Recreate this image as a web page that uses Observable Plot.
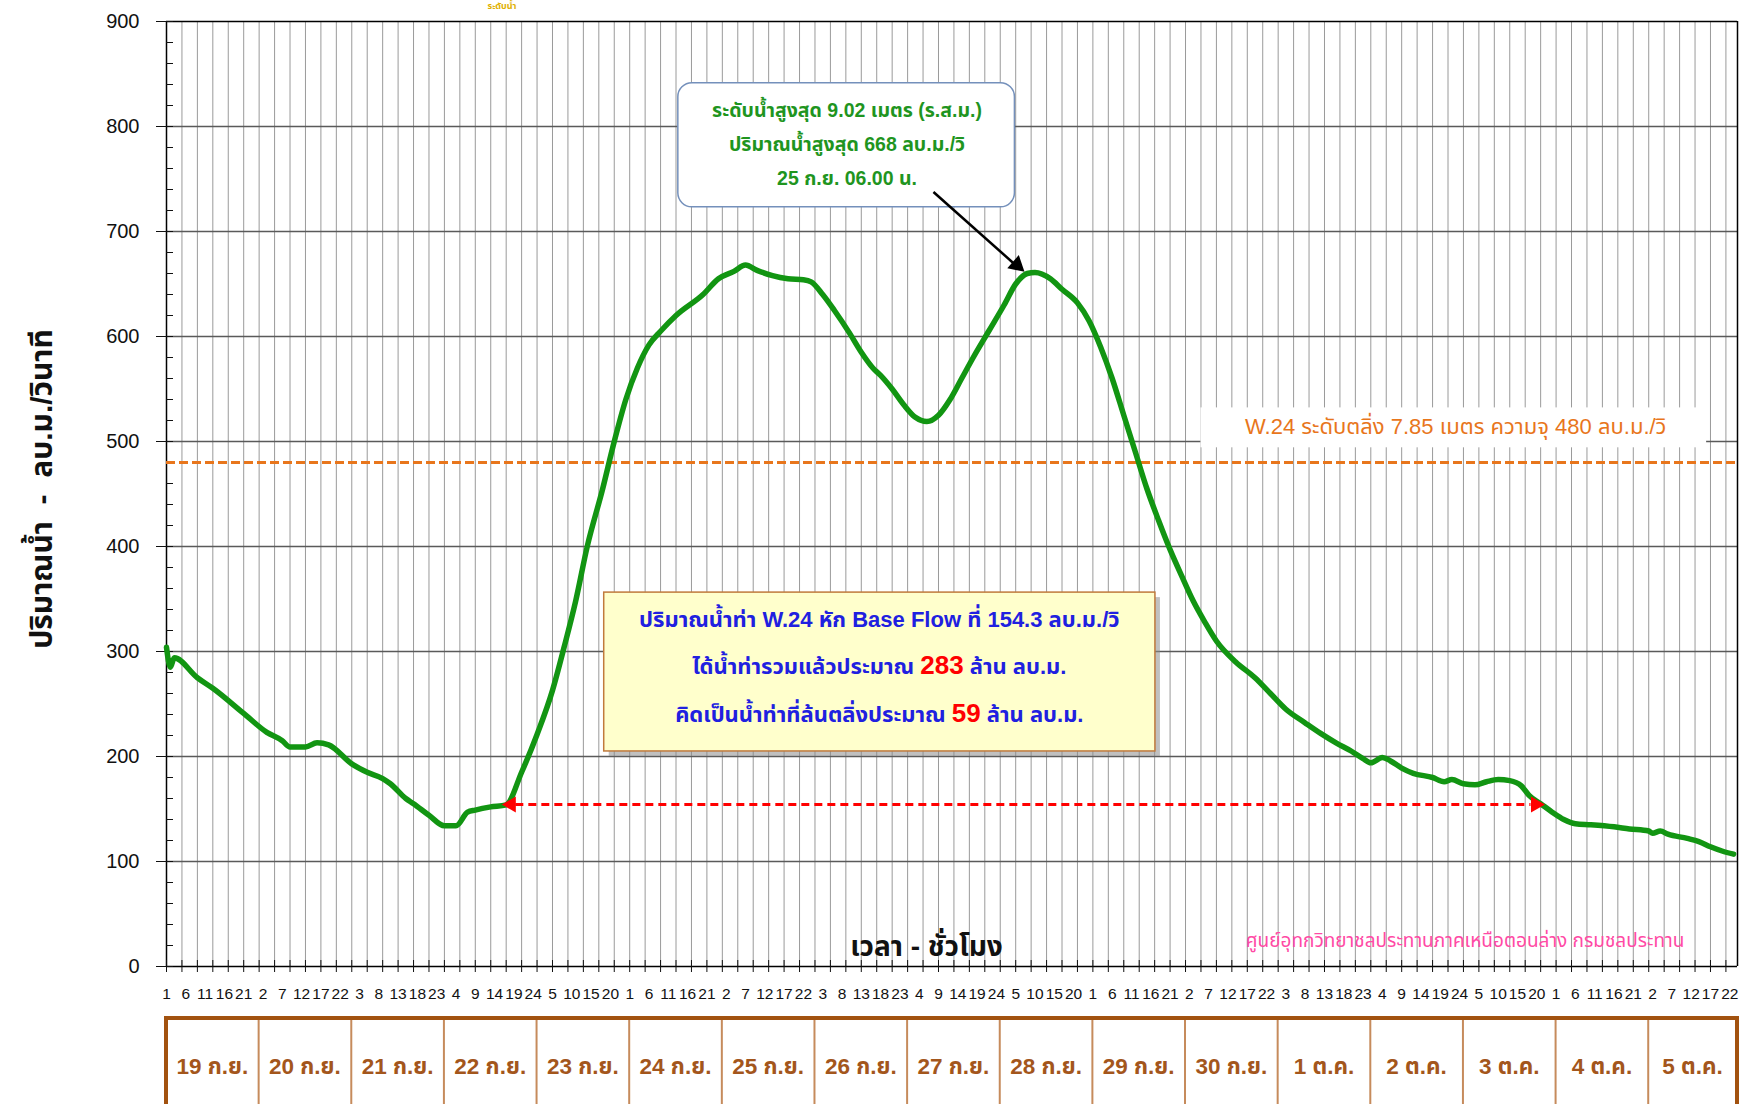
<!DOCTYPE html>
<html>
<head>
<meta charset="utf-8">
<script src="https://cdn.jsdelivr.net/npm/d3@7"></script>
<script src="https://cdn.jsdelivr.net/npm/@observablehq/plot@0.6"></script>
<style>
  html, body { margin: 0; padding: 0; background: #fff; }
  #chart { width: 1739px; height: 1104px; overflow: hidden; position: relative; }
</style>
</head>
<body>
<div id="chart"></div>
<script>
// ---------------- DATA ----------------
// hour index: 0 = 19 ก.ย. 01:00 (hourly series)
const hours = [0, 1, 2, 8, 12, 20, 26, 30, 32, 36, 39, 42, 48, 52, 56, 58, 62, 64, 68, 72, 75, 78, 80, 84, 88,
  92, 96, 100, 103, 106, 109, 113, 116, 119, 122, 125, 128, 132, 139, 143, 147, 150, 153, 157, 161, 165, 167, 170, 173,
  177, 180, 183, 185, 188, 191, 194, 197, 200, 203, 206, 209, 213, 217, 220, 223, 225, 229, 232, 236, 239,
  242, 245, 248, 251, 254, 257, 260, 263, 266, 269, 272, 277, 282, 286, 290, 295, 299, 303, 307, 310, 312,
  315, 317, 320, 323, 328, 331, 333, 336, 339, 342, 345, 348, 351, 353, 356, 359, 362, 365, 369, 375, 379,
  384, 385, 387, 389, 394, 397, 400, 403, 406];
const flow = [304, 285, 294, 275, 265, 241, 223, 215, 209, 209, 213, 211, 193, 185, 179, 174, 160, 155, 144, 134, 134, 147, 149, 152, 154,
  185, 221, 263, 304, 348, 400, 455, 500, 540, 570, 592, 605, 620, 640, 655, 662, 668, 663, 658, 655, 654, 652, 640, 625,
  603, 585, 570, 563, 550, 535, 523, 519, 525, 540, 560, 580, 605, 630, 650, 660, 661, 655, 645, 632, 615,
  590, 560, 525, 490, 455, 425, 397, 372, 348, 328, 310, 290, 275, 260, 245, 232, 222, 213, 205, 198, 194,
  199, 196, 189, 184, 180, 176, 178, 174, 173, 176, 178, 177, 172, 163, 155, 147, 140, 136, 135, 133, 131,
  129, 127, 129, 126, 122, 119, 114, 110, 107];

const dayLabels = ["19 ก.ย.", "20 ก.ย.", "21 ก.ย.", "22 ก.ย.", "23 ก.ย.", "24 ก.ย.", "25 ก.ย.", "26 ก.ย.",
  "27 ก.ย.", "28 ก.ย.", "29 ก.ย.", "30 ก.ย.", "1 ต.ค.", "2 ต.ค.", "3 ต.ค.", "4 ต.ค.", "5 ต.ค."];
const yMajorTicks = [0, 100, 200, 300, 400, 500, 600, 700, 800, 900];
const yMinorTicks = d3.range(0, 901, 20);
const hourTickPositions = d3.range(0, 405, 4);     // tick marks / grid every 4 h
const hourLabelPositions = d3.range(0, 406, 5);    // labels every 5 h
const hourLabel = t => String(t % 24 + 1);
const lastHour = 407;

const bankFlow = 480;
const baseFlow = 154.3;
const baseFlowFrom = 88;
const baseFlowTo = 356;

const yTitle = "ปริมาณน้ำ  -  ลบ.ม./วินาที";
const xTitle = "เวลา - ชั่วโมง";
const bankLabel = "W.24 ระดับตลิ่ง 7.85 เมตร ความจุ 480 ลบ.ม./วิ";
const peakLines = ["ระดับน้ำสูงสุด 9.02 เมตร (ร.ส.ม.)", "ปริมาณน้ำสูงสุด 668 ลบ.ม./วิ", "25 ก.ย. 06.00 น."];
const volumeLines = [
  [["ปริมาณน้ำท่า W.24 หัก Base Flow ที่ 154.3 ลบ.ม./วิ", "b"]],
  [["ได้น้ำท่ารวมแล้วประมาณ ", "b"], ["283", "r"], [" ล้าน ลบ.ม.", "b"]],
  [["คิดเป็นน้ำท่าที่ล้นตลิ่งประมาณ ", "b"], ["59", "r"], [" ล้าน ลบ.ม.", "b"]]
];
const credit = "ศูนย์อุทกวิทยาชลประทานภาคเหนือตอนล่าง กรมชลประทาน";
const topFragment = "ระดับน้ำ";

// ---------------- CHART ----------------
const FONT = '"Liberation Sans", Arial, "Noto Sans Thai", "Noto Sans", "DejaVu Sans", sans-serif';
const data = hours.map((t, i) => ({t, v: flow[i]}));

const GREEN = "#129512", ORANGE = "#e8761c", RED = "#ff0000", BLUE = "#2020e0";

const plot = Plot.plot({
  width: 1739,
  height: 1104,
  marginLeft: 166,
  marginRight: 2,
  marginTop: 21,
  marginBottom: 138,
  x: {domain: [0, lastHour]},
  y: {domain: [0, 900]},
  style: {fontFamily: FONT, background: "#fff", overflow: "visible", color: "#111"},
  marks: [
    Plot.ruleX(hourTickPositions.filter(d => d > 0), {stroke: "#9a9a9a", strokeWidth: 1}),
    Plot.ruleY(yMajorTicks.filter(d => d > 0 && d < 900), {stroke: "#5a5a5a", strokeWidth: 1.4}),
    Plot.ruleY([0, 900], {stroke: "#000", strokeWidth: 1.5}),
    Plot.ruleX([0, lastHour], {stroke: "#000", strokeWidth: 1.5}),
    Plot.axisY(yMajorTicks, {tickSize: 10, tickPadding: 17, fontSize: 20, label: null}),
    Plot.axisY(yMinorTicks, {tickSize: 7, dx: 7, tickFormat: () => "", label: null}),
    Plot.axisX(hourTickPositions, {tickSize: 12, dy: -6, tickFormat: () => "", label: null}),
    Plot.axisX(hourLabelPositions, {tickSize: 0, tickPadding: 21, tickFormat: hourLabel, fontSize: 15.5, label: null}),

    // bank-full line and its label
    Plot.ruleY([bankFlow], {stroke: ORANGE, strokeWidth: 3, strokeDasharray: "9,4"}),
    Plot.rect([0], {x1: 268, x2: 399, y1: 494, y2: 532, fill: "#fff"}),
    Plot.text([bankLabel], {x: 334, y: 514, fill: ORANGE, fontSize: 22}),

    // peak annotation box
    Plot.rect([0], {x1: 132.6, x2: 219.8, y1: 723, y2: 841.3, fill: "#fff", stroke: "#7490bb", strokeWidth: 1.5, rx: 14}),
    Plot.text(peakLines, {x: 176.3, y: (d, i) => [815.1, 782.7, 750.4][i], fill: "#1f951f", fontSize: 19.5, fontWeight: "bold"}),
    Plot.link([0], {x1: 198.7, y1: 737.6, x2: 220.6, y2: 666, stroke: "#000", strokeWidth: 2.5}),
    Plot.dot([0], {x: 221.6, y: 663.8, symbol: "triangle", rotate: 131, r: 6.5, fill: "#000", stroke: "none", dx: -5, dy: -4.5}),

    // volume annotation box (shadow + box)
    Plot.rect([0], {x1: 113.4, x2: 256.2, y1: 204.8, y2: 356.1, fill: "#8c8c8c", fillOpacity: 0.55, dx: 5, dy: 5}),
    Plot.rect([0], {x1: 113.4, x2: 256.2, y1: 204.8, y2: 356.1, fill: "#ffffcc", stroke: "#c07a3c", strokeWidth: 1.5}),

    // credit and titles
    Plot.text([credit], {x: 336.4, y: 24.7, fill: "#ff4aa5", fontSize: 19}),
    Plot.text([xTitle], {x: 196.9, y: 19, fill: "#111", fontSize: 28, fontWeight: "bold"}),
    Plot.text([yTitle], {frameAnchor: "left", textAnchor: "middle", dx: -124, dy: -5, rotate: -90, fill: "#111", fontSize: 30, fontWeight: "bold"}),

    // flow hydrograph
    Plot.line(data, {x: "t", y: "v", stroke: GREEN, strokeWidth: 5.5, strokeLinejoin: "round", strokeLinecap: "round", curve: "monotone-x"}),

    // base-flow double arrow
    Plot.ruleY([baseFlow], {x1: baseFlowFrom + 2.5, x2: baseFlowTo - 2.5, stroke: RED, strokeWidth: 3, strokeDasharray: "8,5"}),
    Plot.dot([baseFlowFrom], {x: d => d, y: () => baseFlow, symbol: "triangle", rotate: -90, r: 6, fill: RED, stroke: "none", dx: 5}),
    Plot.dot([baseFlowTo], {x: d => d, y: () => baseFlow, symbol: "triangle", rotate: 90, r: 6, fill: RED, stroke: "none", dx: -5})
  ]
});

document.getElementById("chart").appendChild(plot);

// ---------- extras positioned through the plot's own scales ----------
const X = plot.scale("x"), Y = plot.scale("y");
const svg = d3.select(plot);

// volume annotation text with mixed colours
const volX = X.apply(184.8);
const volYs = [326, 281.6, 235.7];
const vt = svg.append("g").attr("font-family", FONT).attr("font-weight", "bold").attr("text-anchor", "middle");
volumeLines.forEach((parts, i) => {
  const t = vt.append("text").attr("x", volX).attr("y", Y.apply(volYs[i])).attr("dy", "0.35em");
  parts.forEach(([s, c]) => {
    t.append("tspan").text(s)
      .attr("fill", c === "r" ? RED : BLUE)
      .attr("font-size", c === "r" ? 26 : 22);
  });
});

// day boxes under the hour labels
const boxTop = 1018, boxBottom = 1112;
const dg = svg.append("g").attr("font-family", FONT);
dayLabels.forEach((lab, k) => {
  const x1 = X.apply(k * 24), x2 = X.apply(Math.min(k * 24 + 24, lastHour));
  if (k > 0) dg.append("line").attr("x1", x1).attr("x2", x1).attr("y1", boxTop).attr("y2", boxBottom)
    .attr("stroke", "#c68b5c").attr("stroke-width", 2);
  dg.append("text").attr("x", (x1 + x2) / 2).attr("y", 1066).attr("dy", "0.35em")
    .attr("text-anchor", "middle").attr("font-size", 22.5).attr("font-weight", "bold")
    .attr("fill", "#a3561c").text(lab);
});
dg.append("path")
  .attr("d", `M${X.apply(0)},${boxBottom}V${boxTop}H${X.apply(lastHour)}V${boxBottom}`)
  .attr("fill", "none").attr("stroke", "#a2520f").attr("stroke-width", 4);

// small title fragment at the very top (yellow)
svg.append("text").attr("x", 502).attr("y", 9).attr("text-anchor", "middle")
  .attr("font-family", FONT).attr("font-size", 9).attr("font-weight", "bold")
  .attr("fill", "#e0b000").text(topFragment);
</script>
</body>
</html>
